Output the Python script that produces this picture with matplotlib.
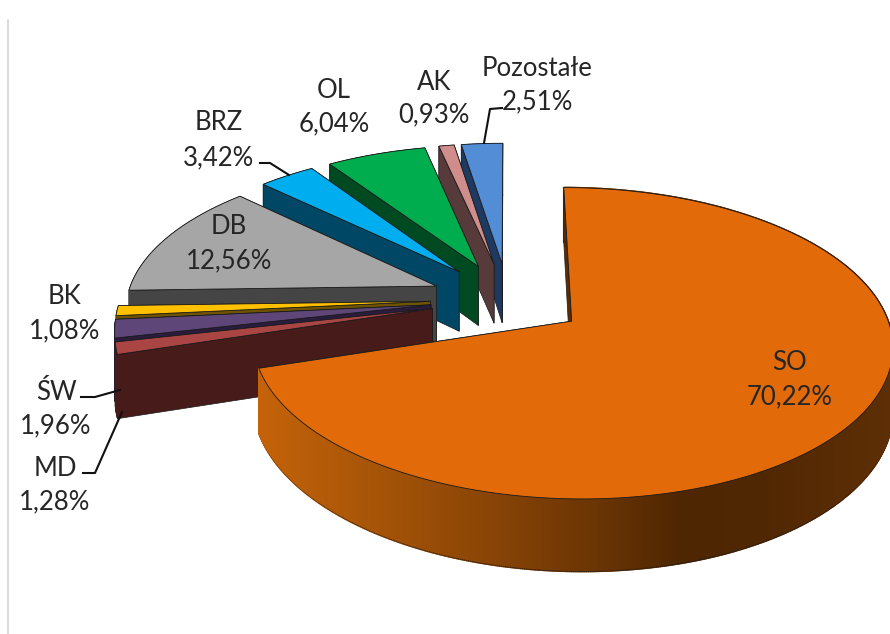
import numpy as np
import matplotlib
matplotlib.use("Agg")
import matplotlib.pyplot as plt
from matplotlib.patches import Polygon

plt.rcParams['font.family'] = ['Lato', 'DejaVu Sans']

# udzialy w %, zgodnie z ruchem wskazowek zegara od godziny 12
names = ['SO', 'MD', 'ŚW', 'BK', 'DB', 'BRZ', 'OL', 'AK', 'Pozostałe']
values = [70.22, 1.28, 1.96, 1.08, 12.56, 3.42, 6.04, 0.93, 2.51]
top_colors = ['#E26A08', '#A94644', '#5F4679', '#FFC000', '#A6A6A6',
              '#00AEEF', '#00AD4E', '#CF8E8C', '#538DD5']
side_colors = ['#5A2C05', '#461B1A', '#2A1C3C', '#6E5400', '#454545',
               '#004766', '#004A22', '#573A3A', '#1F3A60']

# geometry of the 3d view
cx, cy = 508, 299
R = 310
tilt = 146.3
persp = 0.139
depth = 61
explode = 0.25
start = 0


def project(u, v, drop=0):
    s = 1 / (1 - persp * v)
    return cx + R * u * s, cy + tilt * v * s + drop * s


def slice_outline(a0, a1):
    mid = np.radians((a0 + a1) / 2)
    ox, oy = explode * np.sin(mid), -explode * np.cos(mid)
    n = max(int((a1 - a0) * 3), 3)
    ang = np.radians(np.linspace(a0, a1, n))
    us = np.r_[ox, ox + np.sin(ang)]
    vs = np.r_[oy, oy - np.cos(ang)]
    return us, vs


def so_side_color(x):
    # gradient on the big slice
    xs = [255, 330, 480, 600, 680, 760, 890]
    r = np.interp(x, xs, [198, 178, 140, 105, 78, 80, 94])
    g = np.interp(x, xs, [99, 90, 70, 52, 38, 39, 47])
    b = np.interp(x, xs, [10, 8, 6, 4, 2, 3, 6])
    return (r / 255, g / 255, b / 255)


fig = plt.figure(figsize=(8.9, 6.34), dpi=100)
ax = fig.add_axes([0, 0, 1, 1])
ax.set_xlim(0, 890)
ax.set_ylim(634, 0)
ax.axis('off')

ax.plot([8, 8], [20, 634], color='#D4D4D4', lw=1.2)

angles = start + np.r_[0, np.cumsum(values)] * 3.6
edge = '#1A1A1A'
z = 2

# back slices first, the big one last
for i in list(range(len(values) - 1, 0, -1)) + [0]:
    us, vs = slice_outline(angles[i], angles[i + 1])
    n = len(us)
    quads = []
    for j in range(n):
        k = (j + 1) % n
        x0, y0 = project(us[j], vs[j])
        x1, y1 = project(us[k], vs[k])
        x2, y2 = project(us[k], vs[k], depth)
        x3, y3 = project(us[j], vs[j], depth)
        radial = j == 0 or j == n - 1
        quads.append([(y0 + y1) / 2, radial, [(x0, y0), (x1, y1), (x2, y2), (x3, y3)]])
    quads.sort(key=lambda q: q[0])
    for my, radial, pts in quads:
        z += 1
        if radial:
            ax.add_patch(Polygon(pts, closed=True, fc=side_colors[i], ec=edge, lw=0.5, zorder=z))
            continue
        if i == 0:
            c = so_side_color(np.mean([p[0] for p in pts]))
            ax.add_patch(Polygon(pts, closed=True, fc=c, ec=c, lw=1.2, zorder=z))
        else:
            ax.add_patch(Polygon(pts, closed=True, fc=side_colors[i], ec=side_colors[i],
                                 lw=0.4, zorder=z))
        # lower edge of the rim, later faces can cover it
        ax.plot([pts[2][0], pts[3][0]], [pts[2][1], pts[3][1]], color=edge, lw=0.6,
                alpha=0.8, zorder=z)
    z += 1
    top = np.array([project(u, v) for u, v in zip(us, vs)])
    ax.add_patch(Polygon(top, closed=True, fc=top_colors[i], ec=edge, lw=0.6, zorder=z))

z += 1
# labels: nazwa nad procentem
label_pos = {'SO': (790, 363, 397), 'MD': (55, 468, 502), 'ŚW': (56, 393, 426),
             'BK': (65, 297, 331), 'DB': (229, 227, 261), 'BRZ': (219, 123, 158),
             'OL': (334, 91, 124), 'AK': (434, 83, 115), 'Pozostałe': (537, 68, 102)}
for name, val in zip(names, values):
    x, y1, y2 = label_pos[name]
    txt = ('%.2f' % val).replace('.', ',') + '%'
    ax.text(x, y1, name, ha='center', va='center', fontsize=18.5, color='#262626', zorder=z)
    ax.text(x, y2, txt, ha='center', va='center', fontsize=18.5, color='#262626', zorder=z)

# leader lines
leaders = [([81, 95, 120], [397, 397, 390]),
           ([83, 95, 122], [473, 473, 412]),
           ([260, 270, 289], [163, 163, 175]),
           ([502, 490, 484], [108, 109, 143])]
for lx, ly in leaders:
    ax.plot(lx, ly, color='#111111', lw=1.5, zorder=z)

fig.savefig('out.png', dpi=100)
